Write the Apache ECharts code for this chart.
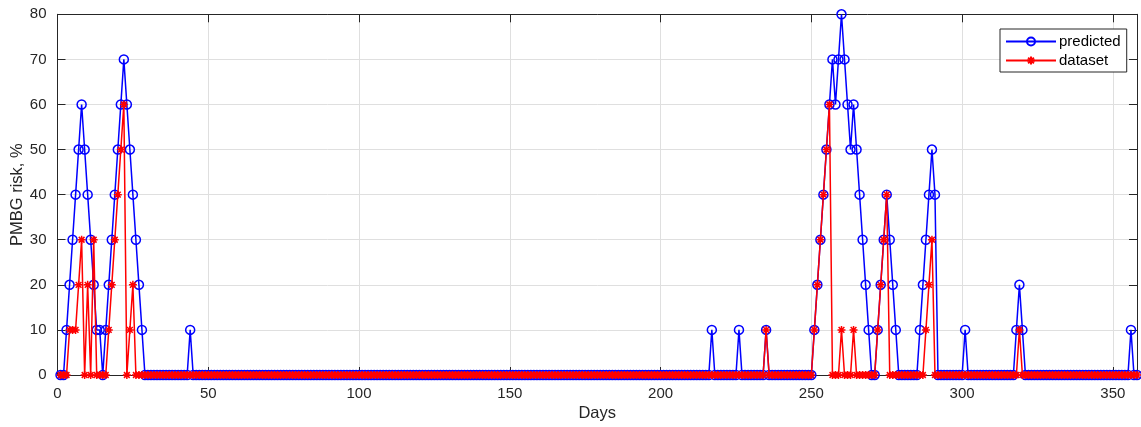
<!DOCTYPE html>
<html>
<head>
<meta charset="utf-8">
<script src="https://cdn.jsdelivr.net/npm/echarts@6/dist/echarts.min.js"></script>
<style>
html,body{margin:0;padding:0;background:#fff;}
#chart{width:1141px;height:427px;}
</style>
</head>
<body>
<div id="chart"></div>
<script>
// Data: daily values, day 1 .. day 358
const seriesNames = ['predicted', 'dataset'];
const xTicks = [0, 50, 100, 150, 200, 250, 300, 350];
const yTicks = [0, 10, 20, 30, 40, 50, 60, 70, 80];

const predicted = [
  0,0,10,20,30,40,50,60,50,40,
  30,20,10,10,0,10,20,30,40,50,
  60,70,60,50,40,30,20,10,0,0,
  0,0,0,0,0,0,0,0,0,0,
  0,0,0,10,0,0,0,0,0,0,
  0,0,0,0,0,0,0,0,0,0,
  0,0,0,0,0,0,0,0,0,0,
  0,0,0,0,0,0,0,0,0,0,
  0,0,0,0,0,0,0,0,0,0,
  0,0,0,0,0,0,0,0,0,0,
  0,0,0,0,0,0,0,0,0,0,
  0,0,0,0,0,0,0,0,0,0,
  0,0,0,0,0,0,0,0,0,0,
  0,0,0,0,0,0,0,0,0,0,
  0,0,0,0,0,0,0,0,0,0,
  0,0,0,0,0,0,0,0,0,0,
  0,0,0,0,0,0,0,0,0,0,
  0,0,0,0,0,0,0,0,0,0,
  0,0,0,0,0,0,0,0,0,0,
  0,0,0,0,0,0,0,0,0,0,
  0,0,0,0,0,0,0,0,0,0,
  0,0,0,0,0,0,10,0,0,0,
  0,0,0,0,0,10,0,0,0,0,
  0,0,0,0,10,0,0,0,0,0,
  0,0,0,0,0,0,0,0,0,0,
  10,20,30,40,50,60,70,60,70,80,
  70,60,50,60,50,40,30,20,10,0,
  0,10,20,30,40,30,20,10,0,0,
  0,0,0,0,0,10,20,30,40,50,
  40,0,0,0,0,0,0,0,0,0,
  10,0,0,0,0,0,0,0,0,0,
  0,0,0,0,0,0,0,10,20,10,
  0,0,0,0,0,0,0,0,0,0,
  0,0,0,0,0,0,0,0,0,0,
  0,0,0,0,0,0,0,0,0,0,
  0,0,0,0,0,10,0,0
];

const dataset = [
  0,0,0,10,10,10,20,30,0,20,
  0,30,0,0,0,0,10,20,30,40,
  50,60,0,10,20,0,0,0,0,0,
  0,0,0,0,0,0,0,0,0,0,
  0,0,0,0,0,0,0,0,0,0,
  0,0,0,0,0,0,0,0,0,0,
  0,0,0,0,0,0,0,0,0,0,
  0,0,0,0,0,0,0,0,0,0,
  0,0,0,0,0,0,0,0,0,0,
  0,0,0,0,0,0,0,0,0,0,
  0,0,0,0,0,0,0,0,0,0,
  0,0,0,0,0,0,0,0,0,0,
  0,0,0,0,0,0,0,0,0,0,
  0,0,0,0,0,0,0,0,0,0,
  0,0,0,0,0,0,0,0,0,0,
  0,0,0,0,0,0,0,0,0,0,
  0,0,0,0,0,0,0,0,0,0,
  0,0,0,0,0,0,0,0,0,0,
  0,0,0,0,0,0,0,0,0,0,
  0,0,0,0,0,0,0,0,0,0,
  0,0,0,0,0,0,0,0,0,0,
  0,0,0,0,0,0,0,0,0,0,
  0,0,0,0,0,0,0,0,0,0,
  0,0,0,0,10,0,0,0,0,0,
  0,0,0,0,0,0,0,0,0,0,
  10,20,30,40,50,60,0,0,0,10,
  0,0,0,10,0,0,0,0,0,0,
  0,10,20,30,40,0,0,0,0,0,
  0,0,0,0,0,0,0,10,20,30,
  0,0,0,0,0,0,0,0,0,0,
  0,0,0,0,0,0,0,0,0,0,
  0,0,0,0,0,0,0,0,10,0,
  0,0,0,0,0,0,0,0,0,0,
  0,0,0,0,0,0,0,0,0,0,
  0,0,0,0,0,0,0,0,0,0,
  0,0,0,0,0,0,0,0
];

const firstDay = 1;
const toXY = arr => arr.map((v, i) => [firstDay + i, v]);

const FONT = '"Liberation Sans", Arial, sans-serif';
const TXT = '#262626';
const starPath = 'path://M0,-5L0,5M-5,0L5,0M-3.6,-3.6L3.6,3.6M-3.6,3.6L3.6,-3.6';

const chart = echarts.init(document.getElementById('chart'), null, {renderer: 'canvas'});

const axisCommonX = {
  type: 'value', min: 0, max: 358, interval: 50,
  axisLine: {show: true, onZero: false, lineStyle: {color: TXT, width: 1}},
  axisTick: {show: true, inside: true, length: 8, lineStyle: {color: TXT}},
};
const axisCommonY = {
  type: 'value', min: 0, max: 80, interval: 10,
  axisLine: {show: true, onZero: false, lineStyle: {color: TXT, width: 1}},
  axisTick: {show: true, inside: true, length: 8, lineStyle: {color: TXT}},
};

chart.setOption({
  animation: false,
  backgroundColor: '#fff',
  textStyle: {fontFamily: FONT},
  grid: {left: 57.5, right: 4, top: 14.3, bottom: 52, containLabel: false, outerBoundsMode: 'none'},
  legend: {
    data: seriesNames,
    orient: 'vertical',
    left: 1000, top: 29,
    padding: [5, 6, 4, 5],
    itemGap: 4,
    itemWidth: 50, itemHeight: 10,
    backgroundColor: '#fff',
    borderColor: TXT, borderWidth: 1, borderRadius: 0,
    textStyle: {fontFamily: FONT, fontSize: 15, color: '#000', padding: [0,0,0,-2]}
  },
  xAxis: [
    Object.assign({}, axisCommonX, {
      position: 'bottom',
      name: 'Days', nameLocation: 'middle', nameGap: 30, nameMoveOverlap: false,
      nameTextStyle: {fontFamily: FONT, fontSize: 16.5, color: TXT},
      axisLabel: {fontFamily: FONT, fontSize: 15, color: TXT, margin: 11,
                  formatter: v => xTicks.indexOf(v) >= 0 ? String(v) : ''},
      splitLine: {show: true, lineStyle: {color: '#dfdfdf', width: 1}}
    }),
    Object.assign({}, axisCommonX, {
      position: 'top', axisLabel: {show: false}, splitLine: {show: false}
    })
  ],
  yAxis: [
    Object.assign({}, axisCommonY, {
      position: 'left',
      name: 'PMBG risk, %', nameLocation: 'middle', nameGap: 32, nameRotate: 90,
      nameMoveOverlap: false,
      nameTextStyle: {fontFamily: FONT, fontSize: 16.5, color: TXT},
      axisLabel: {fontFamily: FONT, fontSize: 15, color: TXT, margin: 11,
                  formatter: v => yTicks.indexOf(v) >= 0 ? String(v) : ''},
      splitLine: {show: true, lineStyle: {color: '#dfdfdf', width: 1}}
    }),
    Object.assign({}, axisCommonY, {
      position: 'right', axisLabel: {show: false}, splitLine: {show: false}
    })
  ],
  series: [
    {
      name: seriesNames[0], type: 'line', data: toXY(predicted),
      xAxisIndex: 0, yAxisIndex: 0,
      symbol: 'circle', symbolSize: 9, showAllSymbol: true,
      lineStyle: {color: '#0000ff', width: 1.5},
      itemStyle: {color: 'rgba(255,255,255,0)', borderColor: '#0000ff', borderWidth: 1.5},
      emphasis: {disabled: true},
      clip: false, z: 2
    },
    {
      name: seriesNames[1], type: 'line', data: toXY(dataset),
      xAxisIndex: 0, yAxisIndex: 0,
      symbol: starPath, symbolSize: 8, showAllSymbol: true,
      lineStyle: {color: '#ff0000', width: 1.5},
      itemStyle: {color: 'none', borderColor: '#ff0000', borderWidth: 1.5},
      emphasis: {disabled: true},
      clip: false, z: 3
    }
  ]
});
</script>
</body>
</html>
